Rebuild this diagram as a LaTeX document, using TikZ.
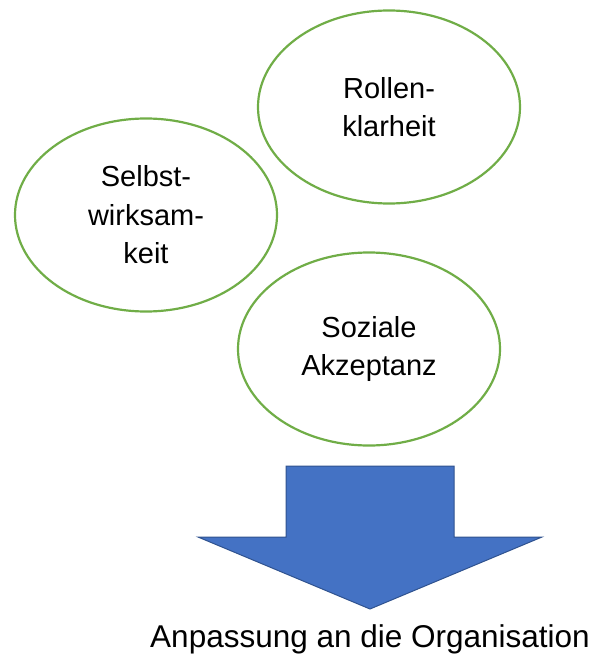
\documentclass[tikz,border=0pt]{standalone}
\usepackage{fontspec}
\setmainfont{Liberation Sans}
\usepackage{tikz}
\usepackage{xcolor}
\usetikzlibrary{shapes.geometric}
\definecolor{ellgreen}{HTML}{70AD47}
\definecolor{arrowblue}{HTML}{4472C4}
\definecolor{arrowedge}{HTML}{2F528F}

\begin{document}
\begin{tikzpicture}[x=1pt,y=-1pt,
    factor/.style={ellipse,draw=ellgreen,line width=2.2pt,minimum width=262pt,minimum height=193pt,inner sep=0pt,align=center,font=\fontsize{29}{38.5}\selectfont}]
                \useasboundingbox (0,0) rectangle (593,655);
                \node[factor] (rolle) at (389,107) {Rollen-\\klarheit};
                \node[factor] (selbst) at (146,215) {Selbst-\\wirksam-\\keit};
                \node[factor] (sozial) at (369,349) {Soziale\\Akzeptanz};
                \filldraw[fill=arrowblue,draw=arrowedge,line width=1pt]
                    (286,466) -- (454,466) -- (454,537) -- (542,537) -- (370,609) -- (198,537) -- (286,537) -- cycle;
                \node[anchor=base,inner sep=0pt,font=\fontsize{31.5}{36}\selectfont] (anpassung) at (370,647.5) {Anpassung an die Organisation};
            \end{tikzpicture}
\end{document}
